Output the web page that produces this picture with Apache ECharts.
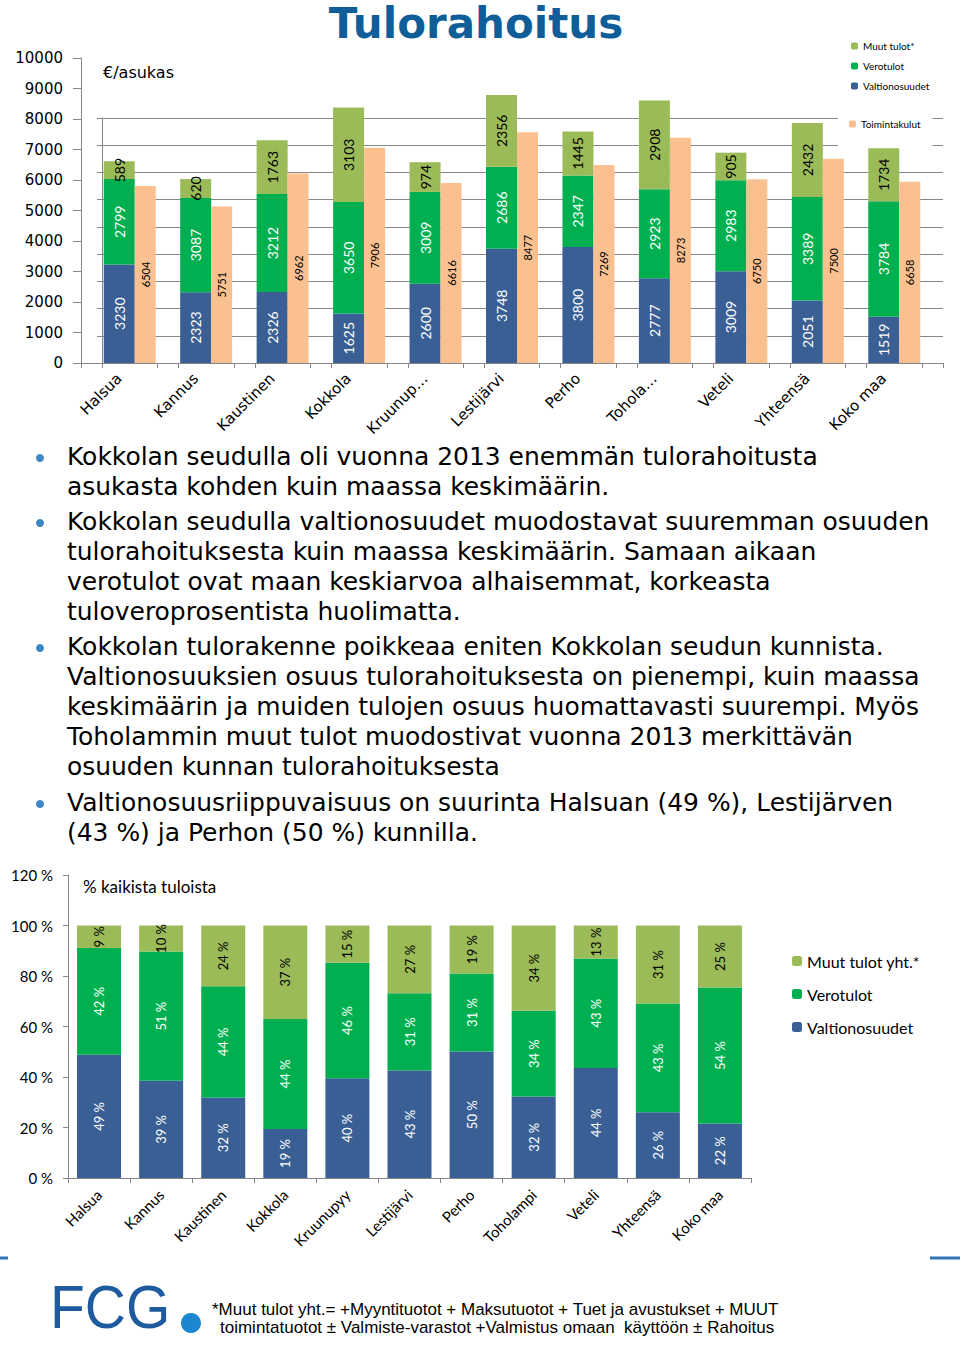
<!DOCTYPE html>
<html>
<head>
<meta charset="utf-8">
<script src="https://cdn.jsdelivr.net/npm/echarts@6/dist/echarts.min.js"></script>
<style>
html,body{margin:0;padding:0;background:#fff;}
#c{width:960px;height:1346px;}
</style>
</head>
<body>
<div id="c"></div>
<script>
// ---- data ----
const catsTop = ['Halsua','Kannus','Kaustinen','Kokkola','Kruunup…','Lestijärvi','Perho','Tohola…','Veteli','Yhteensä','Koko maa'];
const catsBottom = ['Halsua','Kannus','Kaustinen','Kokkola','Kruunupyy','Lestijärvi','Perho','Toholampi','Veteli','Yhteensä','Koko maa'];
const valtionosuudet = [3230,2323,2326,1625,2600,3748,3800,2777,3009,2051,1519];
const verotulot = [2799,3087,3212,3650,3009,2686,2347,2923,2983,3389,3784];
const muutTulot = [589,620,1763,3103,974,2356,1445,2908,905,2432,1734];
const toimintakulut = [6504,5751,6962,7906,6616,8477,7269,8273,6750,7500,6658];
const pctValtion = [48.8,38.5,31.9,19.4,39.5,42.6,50.1,32.3,43.6,26.0,21.6];
const pctVero = [42.3,51.2,44.0,43.6,45.7,30.6,30.9,33.9,43.3,43.1,53.8];
const pctMuut = [8.9,10.3,24.1,37.0,14.8,26.8,19.0,33.8,13.1,30.9,24.6];
const yTicksTop = [0,10000,1000];
const yTicksBottom = [0,120,20];
const textLines = [
  ['Kokkolan seudulla oli vuonna 2013 enemmän tulorahoitusta', true],
  ['asukasta kohden kuin maassa keskimäärin.', false],
  ['Kokkolan seudulla valtionosuudet muodostavat suuremman osuuden', true],
  ['tulorahoituksesta kuin maassa keskimäärin. Samaan aikaan', false],
  ['verotulot ovat maan keskiarvoa alhaisemmat, korkeasta', false],
  ['tuloveroprosentista huolimatta.', false],
  ['Kokkolan tulorakenne poikkeaa eniten Kokkolan seudun kunnista.', true],
  ['Valtionosuuksien osuus tulorahoituksesta on pienempi, kuin maassa', false],
  ['keskimäärin ja muiden tulojen osuus huomattavasti suurempi. Myös', false],
  ['Toholammin muut tulot muodostivat vuonna 2013 merkittävän', false],
  ['osuuden kunnan tulorahoituksesta', false],
  ['Valtionosuusriippuvaisuus on suurinta Halsuan (49 %), Lestijärven', true],
  ['(43 %) ja Perhon (50 %) kunnilla.', false]
];
const footnote = ['*Muut tulot yht.= +Myyntituotot + Maksutuotot + Tuet ja avustukset + MUUT',
                  'toimintatuotot ± Valmiste-varastot +Valmistus omaan  käyttöön ± Rahoitus'];

// ---- styles ----
const C_BLUE = '#3a5f94', C_GREEN = '#00b050', C_LGREEN = '#9bbb59', C_ORANGE = '#fac090';
const AX = '#868686';
const VER = 'DejaVu Sans, Verdana, sans-serif';
const CAL = 'Lato, Carlito, sans-serif';

const chart = echarts.init(document.getElementById('c'), null, {renderer:'svg', width:960, height:1346});

function stackLabel(color, fmt, size){
  return {show:true, position:'inside', rotate:90, color:color, fontFamily:CAL, fontSize:size, formatter:fmt};
}
const fmtVal = p => String(p.value);
const fmtPct = p => Math.round(p.value) + ' %';

// text graphics
const graphics = [];
graphics.push({type:'text', x:476, y:23, style:{text:'Tulorahoitus', font:'bold 42px DejaVu Sans', fill:'#0f5e99', align:'center', verticalAlign:'middle'}});
graphics.push({type:'text', x:103, y:72, style:{text:'€/asukas', font:'16px DejaVu Sans', fill:'#000', verticalAlign:'middle'}});
graphics.push({type:'text', x:83, y:886, style:{text:'% kaikista tuloista', font:'17px Lato', fill:'#000', verticalAlign:'middle'}});
const centers = [457,487,522,552,582,612,647,677,707,737,767,803,833];
textLines.forEach((l,i)=>{
  graphics.push({type:'text', x:67, y:centers[i], scaleX:1.04, style:{text:l[0], font:'24px DejaVu Sans', fill:'#000', verticalAlign:'middle'}});
  if(l[1]) graphics.push({type:'circle', shape:{cx:40, cy:centers[i]+1, r:4}, style:{fill:'#3d87c6'}});
});
// FCG logo + footnote
graphics.push({type:'text', x:50, y:1307, scaleX:0.92, style:{text:'FCG', font:'62px Liberation Sans', fill:'#1d5a9e', verticalAlign:'middle'}});
graphics.push({type:'circle', shape:{cx:191, cy:1323, r:10}, style:{fill:'#1d86d0'}});
graphics.push({type:'text', x:212, y:1309, style:{text:footnote[0], font:'17px Liberation Sans Narrow, Liberation Sans', fill:'#000', verticalAlign:'middle'}});
graphics.push({type:'text', x:220, y:1327, style:{text:footnote[1], font:'17px Liberation Sans Narrow, Liberation Sans', fill:'#000', verticalAlign:'middle'}});
graphics.push({type:'line', shape:{x1:0,y1:1258,x2:8,y2:1258}, style:{stroke:'#2e75b6', lineWidth:3}});
graphics.push({type:'line', shape:{x1:930,y1:1258,x2:960,y2:1258}, style:{stroke:'#2e75b6', lineWidth:3}});

const option = {
  animation:false,
  backgroundColor:'#fff',
  grid:[
    {left:81, width:841, top:58, height:305},
    {left:102, width:841, top:118, height:245},
    {left:68, width:683, top:875, height:303}
  ],
  xAxis:[
    {gridIndex:0, type:'category', data:catsTop,
      axisLine:{lineStyle:{color:AX}}, axisTick:{show:true, length:5, lineStyle:{color:AX}},
      axisLabel:{rotate:45, interval:0, fontFamily:VER, fontSize:15, color:'#000', margin:13}},
    {gridIndex:1, type:'category', data:catsTop,
      axisLine:{lineStyle:{color:AX}}, axisTick:{show:true, length:5, lineStyle:{color:AX}},
      axisLabel:{show:false}},
    {gridIndex:2, type:'category', data:catsBottom,
      axisLine:{lineStyle:{color:AX}}, axisTick:{show:true, length:5, lineStyle:{color:AX}},
      axisLabel:{rotate:45, interval:0, fontFamily:CAL, fontSize:15, color:'#000', margin:14}}
  ],
  yAxis:[
    {gridIndex:0, type:'value', min:yTicksTop[0], max:yTicksTop[1], interval:yTicksTop[2],
      axisLine:{show:true, lineStyle:{color:AX}}, axisTick:{show:true, length:8, lineStyle:{color:AX}},
      splitLine:{show:false},
      axisLabel:{fontFamily:VER, fontSize:15, color:'#000', margin:18, formatter:v => String(v)}},
    {gridIndex:1, type:'value', min:0, max:9000, interval:1000,
      axisLine:{show:true, lineStyle:{color:AX}}, axisTick:{show:true, length:5, lineStyle:{color:AX}},
      splitLine:{show:true, lineStyle:{color:AX}},
      axisLabel:{show:false}},
    {gridIndex:2, type:'value', min:yTicksBottom[0], max:yTicksBottom[1], interval:yTicksBottom[2],
      axisLine:{show:true, lineStyle:{color:AX}}, axisTick:{show:true, length:5, lineStyle:{color:AX}},
      splitLine:{show:false},
      axisLabel:{fontFamily:CAL, fontSize:15, color:'#000', margin:15, formatter:'{value} %'}}
  ],
  legend:[
    {data:['Muut tulot*','Verotulot','Valtionosuudet'], orient:'vertical', left:851, top:41,
      itemWidth:7, itemHeight:7, itemGap:10, padding:0, selectedMode:false,
      textStyle:{fontFamily:CAL, fontSize:10, color:'#000'}},
    {data:['Toimintakulut'], orient:'vertical', left:838, top:110, backgroundColor:'#fff', z:10,
      itemWidth:7, itemHeight:7, padding:[9,12,18,11], selectedMode:false,
      textStyle:{fontFamily:CAL, fontSize:10, color:'#000'}},
    {data:['Muut tulot yht.*','Verotulot','Valtionosuudet'], orient:'vertical', left:792, top:953,
      itemWidth:10, itemHeight:10, itemGap:17, padding:0, selectedMode:false,
      textStyle:{fontFamily:CAL, fontSize:16, color:'#000'}}
  ],
  series:[
    {name:'Valtionosuudet', type:'bar', xAxisIndex:0, yAxisIndex:0, stack:'top', data:valtionosuudet,
      barWidth:31, itemStyle:{color:C_BLUE}, label:stackLabel('#fff', fmtVal, 14)},
    {name:'Verotulot', type:'bar', xAxisIndex:0, yAxisIndex:0, stack:'top', data:verotulot,
      barWidth:31, itemStyle:{color:C_GREEN}, label:stackLabel('#fff', fmtVal, 14)},
    {name:'Muut tulot*', type:'bar', xAxisIndex:0, yAxisIndex:0, stack:'top', data:muutTulot,
      barWidth:31, itemStyle:{color:C_LGREEN}, label:stackLabel('#000', fmtVal, 14)},
    {type:'bar', xAxisIndex:1, yAxisIndex:1, data:[], barWidth:10, barGap:'0%', silent:true},
    {name:'Toimintakulut', type:'bar', xAxisIndex:1, yAxisIndex:1, data:toimintakulut,
      barWidth:21, barGap:'0%', itemStyle:{color:C_ORANGE}, label:stackLabel('#000', fmtVal, 11)},
    {name:'Valtionosuudet', type:'bar', xAxisIndex:2, yAxisIndex:2, stack:'pct', data:pctValtion,
      barWidth:44, itemStyle:{color:C_BLUE}, label:stackLabel('#fff', fmtPct, 13)},
    {name:'Verotulot', type:'bar', xAxisIndex:2, yAxisIndex:2, stack:'pct', data:pctVero,
      barWidth:44, itemStyle:{color:C_GREEN}, label:stackLabel('#fff', fmtPct, 13)},
    {name:'Muut tulot yht.*', type:'bar', xAxisIndex:2, yAxisIndex:2, stack:'pct', data:pctMuut,
      barWidth:44, itemStyle:{color:C_LGREEN}, label:stackLabel('#000', fmtPct, 13)}
  ],
  graphic:graphics
};
chart.setOption(option);
</script>
</body>
</html>
